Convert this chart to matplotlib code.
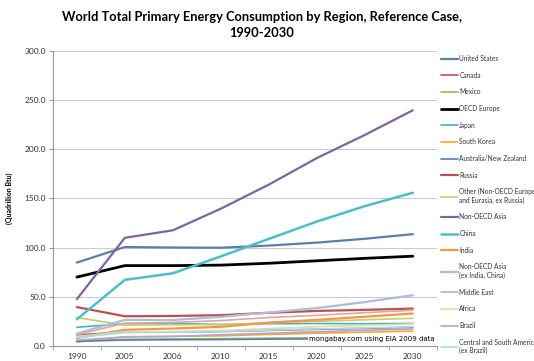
import numpy as np
import matplotlib
matplotlib.use("Agg")
import matplotlib.pyplot as plt

plt.rcParams['font.family'] = ['Lato', 'DejaVu Sans']

years = ["1990", "2005", "2006", "2010", "2015", "2020", "2025", "2030"]

us = [84.7, 100.5, 100.0, 99.8, 102.0, 105.0, 108.9, 113.6]
canada = [11.0, 14.3, 14.0, 14.6, 15.7, 16.8, 17.8, 18.9]
mexico = [5.0, 6.6, 7.0, 7.3, 7.8, 8.3, 8.8, 9.3]
oecd_europe = [69.9, 81.6, 81.6, 82.1, 84.0, 86.5, 89.0, 91.2]
japan = [18.9, 22.6, 22.8, 21.7, 22.5, 22.7, 22.5, 22.8]
south_korea = [4.0, 9.3, 9.6, 10.2, 11.6, 12.8, 13.9, 15.0]
australia_nz = [4.4, 6.0, 6.2, 6.4, 6.8, 7.1, 7.4, 7.7]
russia = [39.4, 30.1, 30.4, 31.2, 33.6, 35.5, 36.6, 37.9]
other_eurasia = [28.8, 21.0, 21.5, 21.5, 23.5, 25.0, 26.5, 28.0]
non_oecd_asia = [47.5, 109.9, 117.5, 139.5, 164.0, 191.0, 214.5, 239.6]
china = [27.0, 67.1, 73.8, 91.0, 108.8, 126.4, 142.1, 155.7]
india = [7.9, 16.3, 17.6, 19.3, 23.7, 26.4, 29.6, 32.9]
other_asia = [12.5, 26.4, 26.2, 29.5, 33.9, 38.4, 44.5, 51.5]
middle_east = [11.3, 23.0, 23.8, 25.7, 28.8, 31.0, 33.7, 36.2]
africa = [9.5, 14.3, 14.5, 15.5, 17.6, 19.5, 20.9, 22.3]
brazil = [5.8, 9.0, 9.6, 11.3, 12.8, 14.3, 15.9, 17.2]
csa = [8.5, 13.4, 13.8, 14.5, 16.0, 17.2, 18.2, 19.4]

series = [
    ("United States", us, "#5a7fab", 1.6),
    ("Canada", canada, "#c0504d", 1.2),
    ("Mexico", mexico, "#9bbb59", 1.2),
    ("OECD Europe", oecd_europe, "#000000", 2.0),
    ("Japan", japan, "#4bacc6", 1.2),
    ("South Korea", south_korea, "#f0a830", 1.2),
    ("Australia/New Zealand", australia_nz, "#4f81bd", 1.2),
    ("Russia", russia, "#c0504d", 1.6),
    ("Other (Non-OECD Europe\nand Eurasia, ex Russia)", other_eurasia, "#c3cf6a", 1.2),
    ("Non-OECD Asia", non_oecd_asia, "#8064a2", 1.6),
    ("China", china, "#4bbdcc", 1.8),
    ("India", india, "#f79646", 1.6),
    ("Non-OECD Asia\n(ex India, China)", other_asia, "#aebdd8", 1.6),
    ("Middle East", middle_east, "#d9a8a8", 1.2),
    ("Africa", africa, "#d7e0a8", 1.2),
    ("Brazil", brazil, "#b3a6cc", 1.2),
    ("Central and South America\n(ex Brazil)", csa, "#a9dbe6", 1.2),
]

fig = plt.figure(figsize=(5.34, 3.61), dpi=100)
ax = fig.add_axes([0.099, 0.042, 0.719, 0.817])

x = np.arange(len(years))
for name, vals, col, lw in series:
    ax.plot(x, vals, color=col, lw=lw, label=name, solid_capstyle='round')

ax.set_xlim(-0.5, len(years) - 0.5)
ax.set_ylim(0, 300)
ax.set_yticks(np.arange(0, 301, 50))
ax.set_yticklabels([f"{v:.1f}" for v in np.arange(0, 301, 50)], fontsize=6, color="#333333")
ax.set_xticks(x)
ax.set_xticklabels(years, fontsize=6, color="#333333")
ax.set_xticks(np.arange(-0.5, len(years), 1), minor=True)
ax.tick_params(axis='x', which='major', length=0, pad=5)
ax.tick_params(axis='x', which='minor', length=3, color="#999999")
ax.tick_params(axis='y', length=3, color="#999999", pad=2)
ax.yaxis.grid(True, color="#cccccc", lw=0.8)
ax.set_axisbelow(True)
for s in ["top", "right"]:
    ax.spines[s].set_visible(False)
ax.spines["left"].set_color("#999999")
ax.spines["bottom"].set_color("#999999")

ax.set_ylabel("(Quadrillion Btu)", fontsize=5, fontweight="bold", labelpad=8)

fig.suptitle("World Total Primary Energy Consumption by Region, Reference Case,\n1990-2030",
             fontsize=9.3, fontweight="bold", y=0.97, x=0.49, linespacing=1.4)

ax.text(0.995, 0.012, "mongabay.com using EIA 2009 data", transform=ax.transAxes,
        fontsize=5, family="DejaVu Sans", ha="right", va="bottom",
        bbox=dict(facecolor="white", edgecolor="none", pad=0.8))

leg = ax.legend(loc="upper left", bbox_to_anchor=(1.0, 1.0), frameon=False, fontsize=4.8,
                handlelength=2.6, handletextpad=0.15, labelspacing=1.45, borderaxespad=0.2)
for t in leg.get_texts():
    t.set_color("#333333")

fig.savefig("out.png", dpi=100)
